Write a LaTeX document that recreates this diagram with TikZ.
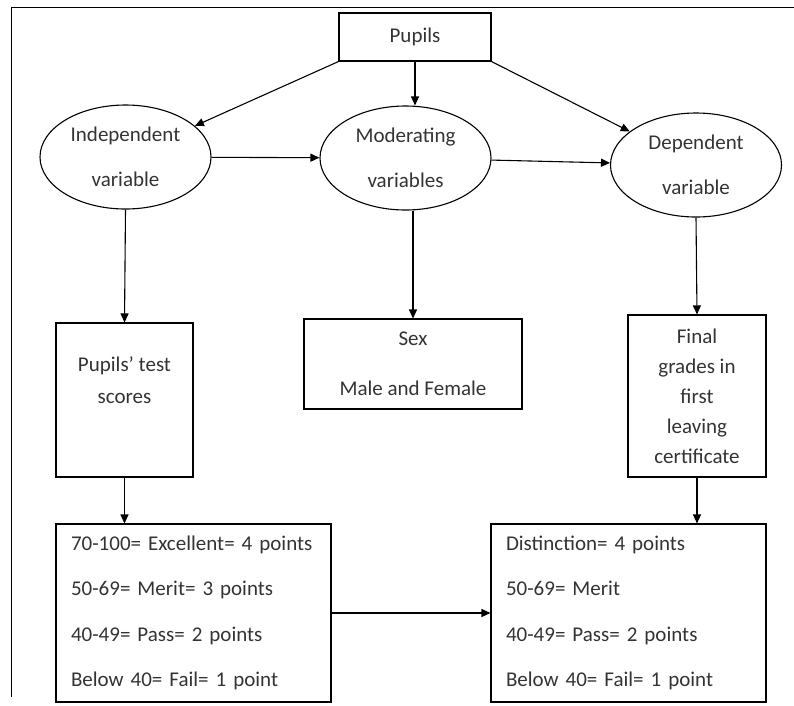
\documentclass[tikz,border=0pt]{standalone}
\usepackage{fontspec}
\setmainfont{Carlito}
\usetikzlibrary{arrows.meta,positioning,calc,shapes.geometric}

\begin{document}
\begin{tikzpicture}[x=1pt, y=-1pt, font=\fontsize{21}{25}\selectfont, >={Triangle[length=9pt,width=8pt]}]
\tikzstyle{var}=[draw, ellipse, line width=1.1pt, inner sep=0pt, minimum width=171, minimum height=104, align=center, text=black!80]
\tikzstyle{box}=[draw, rectangle, line width=1.1pt, inner sep=0pt, align=center, text=black!80]
\tikzstyle{grade}=[draw, rectangle, line width=1.1pt, inner xsep=15pt, inner ysep=0pt, text width=245pt, minimum height=178, align=left, text=black!80]
\useasboundingbox (0,0) rectangle (794,705);
% frame of the page
\draw[line width=0.9pt] (11,697) -- (11,7) -- (794,7);
% top row
\node[box, minimum width=152, minimum height=48] (pupils) at (415,37) {Pupils};
\node[var, font=\fontsize{21}{45}\selectfont] (indep) at (125.5,157) {Independent\\variable};
\node[var, font=\fontsize{21}{45}\selectfont] (moder) at (405.5,158) {Moderating\\variables};
\node[var, font=\fontsize{21}{45}\selectfont] (dep) at (696,165) {Dependent\\variable};
% middle row
\node[box, minimum width=137, minimum height=154, font=\fontsize{21}{32}\selectfont] (scores) at (124.5,400) {Pupils' test\\scores\\[8pt]\mbox{}};
\node[box, minimum width=218, minimum height=90, font=\fontsize{21}{50}\selectfont] (sex) at (413,364) {Sex\\Male and Female};
\node[box, minimum width=138, minimum height=162, font=\fontsize{21}{30}\selectfont] (final) at (697,396) {Final\\grades in\\first\\leaving\\certificate};
% bottom row
\node[grade, font=\fontsize{21}{45.5}\selectfont] (gradeL) at (193.5,613) {70-100= Excellent= 4 points\\50-69= Merit= 3 points\\40-49= Pass= 2 points\\Below 40= Fail= 1 point};
\node[grade, font=\fontsize{21}{45.5}\selectfont] (gradeR) at (628.5,613) {Distinction= 4 points\\50-69= Merit\\40-49= Pass= 2 points\\Below 40= Fail= 1 point};
% connectors
\draw[->, line width=1.1pt] (pupils.south west) -- (indep);
\draw[->, line width=1.1pt] (pupils.south) -- (pupils.south |- moder.north);
\draw[->, line width=1.1pt] (pupils.south east) -- (dep);
\draw[->, line width=1.1pt] (indep) -- (moder);
\draw[->, line width=1.1pt] (moder) -- (dep);
\draw[->, line width=1.1pt] (indep.south) -- (scores.north);
\draw[->, line width=1.1pt] (moder.south -| sex.north) -- (sex.north);
\draw[->, line width=1.1pt] (dep.south) -- (final.north);
\draw[->, line width=1.1pt] (scores.south) -- (scores.south |- gradeL.north);
\draw[->, line width=1.1pt] (final.south) -- (final.south |- gradeR.north);
\draw[->, line width=1.1pt] (gradeL.east) -- (gradeR.west);
\end{tikzpicture}
\end{document}
